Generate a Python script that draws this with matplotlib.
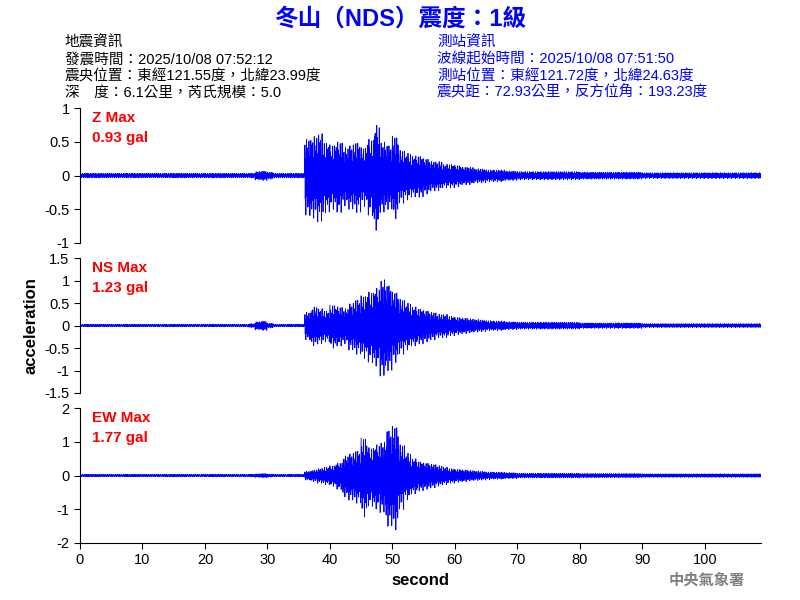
import numpy as np
import matplotlib
matplotlib.use("Agg")
import matplotlib.pyplot as plt

plt.rcParams['font.family'] = ['Liberation Sans', 'Noto Sans CJK TC', 'DejaVu Sans']

# per-second amplitude envelopes (gal), t = 0..109 s
z_env = ([0.04] * 28 + [0.07, 0.08, 0.06] + [0.04] * 5 +
         [0.65, 0.7, 0.75, 0.6, 0.55, 0.6, 0.5, 0.55, 0.6, 0.5, 0.65, 0.9, 0.6, 0.55, 0.7, 0.45] +
         [0.4, 0.35, 0.35, 0.3, 0.25, 0.25, 0.2, 0.2] +
         [0.18, 0.15, 0.15, 0.12, 0.12, 0.1, 0.1, 0.1, 0.08, 0.08] +
         [0.07] * 10 + [0.06] * 10 + [0.05] * 20)
ns_env = ([0.03] * 27 + [0.05, 0.1, 0.12, 0.06] + [0.03] * 5 +
          [0.35, 0.5, 0.45, 0.4, 0.55, 0.5, 0.45, 0.6, 0.7, 0.8, 0.9, 1.0, 1.23, 1.1, 0.9, 0.7] +
          [0.6, 0.5, 0.45, 0.4, 0.35, 0.3, 0.3, 0.25] +
          [0.22, 0.2, 0.18, 0.16, 0.15, 0.13, 0.12, 0.12, 0.1, 0.1] +
          [0.09] * 10 + [0.07] * 10 + [0.05] * 20)
ew_env = ([0.04] * 28 + [0.06, 0.07, 0.05] + [0.04] * 5 +
          [0.15, 0.2, 0.25, 0.3, 0.35, 0.45, 0.7, 0.8, 0.9, 1.35, 1.0, 1.1, 1.2, 1.65, 1.77, 1.1] +
          [0.8, 0.6, 0.5, 0.45, 0.4, 0.35, 0.3, 0.25] +
          [0.22, 0.2, 0.18, 0.16, 0.15, 0.13, 0.12, 0.12, 0.1, 0.1] +
          [0.08] * 10 + [0.07] * 10 + [0.06] * 20)
# fixed wiggle shape used inside each second
wiggle = [1.0, -0.5, 0.7, -0.9, 0.4, -0.8, 0.6, -0.3, 0.85, -0.6, 0.2, -1.0, 0.55, -0.4,
          0.9, -0.7, 0.3, -0.85, 0.65, -0.2, 0.75, -0.55, 0.45, -0.95, 0.35]

panels = [("Z Max", "0.93 gal", z_env, 1.0, [-1, -0.5, 0, 0.5, 1]),
          ("NS Max", "1.23 gal", ns_env, 1.5, [-1.5, -1, -0.5, 0, 0.5, 1, 1.5]),
          ("EW Max", "1.77 gal", ew_env, 2.0, [-2, -1, 0, 1, 2])]

fig = plt.figure(figsize=(8, 6), dpi=100)
tops = [108, 258, 408]
spp = 20
for i, (name, val, env, lim, ticks) in enumerate(panels):
    ax = fig.add_axes([80 / 800, 1 - (tops[i] + 135) / 600, 681 / 800, 135 / 600])
    n = len(env) * spp
    t = np.arange(n) / spp
    amp = np.repeat(env, spp)
    shape = np.resize(np.array(wiggle), n)
    shift = np.resize(np.array(wiggle[7:] + wiggle[:7]), n)
    y = amp * shape * (0.75 + 0.25 * np.abs(shift))
    ax.plot(t, y, color='blue', lw=0.6)
    ax.set_xlim(0, 109)
    ax.set_ylim(-lim, lim)
    ax.set_yticks(ticks)
    ax.set_yticklabels([f"{v:g}" for v in ticks])
    ax.spines['top'].set_visible(False)
    ax.spines['right'].set_visible(False)
    ax.tick_params(labelsize=10.5, direction='out', length=4)
    ax.text(2, lim * 0.85, name, color='red', fontsize=11, fontweight='bold', va='center')
    ax.text(2, lim * 0.55, val, color='red', fontsize=11, fontweight='bold', va='center')
    if i < 2:
        ax.spines['bottom'].set_visible(False)
        ax.set_xticks([])
    else:
        ax.set_xticks(range(0, 101, 10))
        ax.tick_params(axis='x', labelsize=10.5)
        ax.set_xlabel("second", fontsize=12, fontweight='bold')
    if i == 1:
        ax.set_ylabel("acceleration", fontsize=12, fontweight='bold', labelpad=4)

fig.text(0.5, 0.968, "冬山（NDS）震度：1級", color='blue', fontsize=17, fontweight='bold',
         ha='center', va='center')
left = ["地震資訊", "發震時間：2025/10/08 07:52:12", "震央位置：東經121.55度，北緯23.99度",
        "深　度：6.1公里，芮氏規模：5.0"]
right = ["測站資訊", "波線起始時間：2025/10/08 07:51:50", "測站位置：東經121.72度，北緯24.63度",
         "震央距：72.93公里，反方位角：193.23度"]
for k in range(4):
    fig.text(65 / 800, 1 - (43 + k * 16.5) / 600, left[k], fontsize=10.5, va='center', color='black')
    fig.text(437 / 800, 1 - (43 + k * 16.5) / 600, right[k], fontsize=10.5, va='center', color='blue')
fig.text(745 / 800, 1 - 581 / 600, "中央氣象署", fontsize=11, color='gray', ha='right', va='center',
         fontweight='bold')
fig.savefig("out.png", dpi=100)
